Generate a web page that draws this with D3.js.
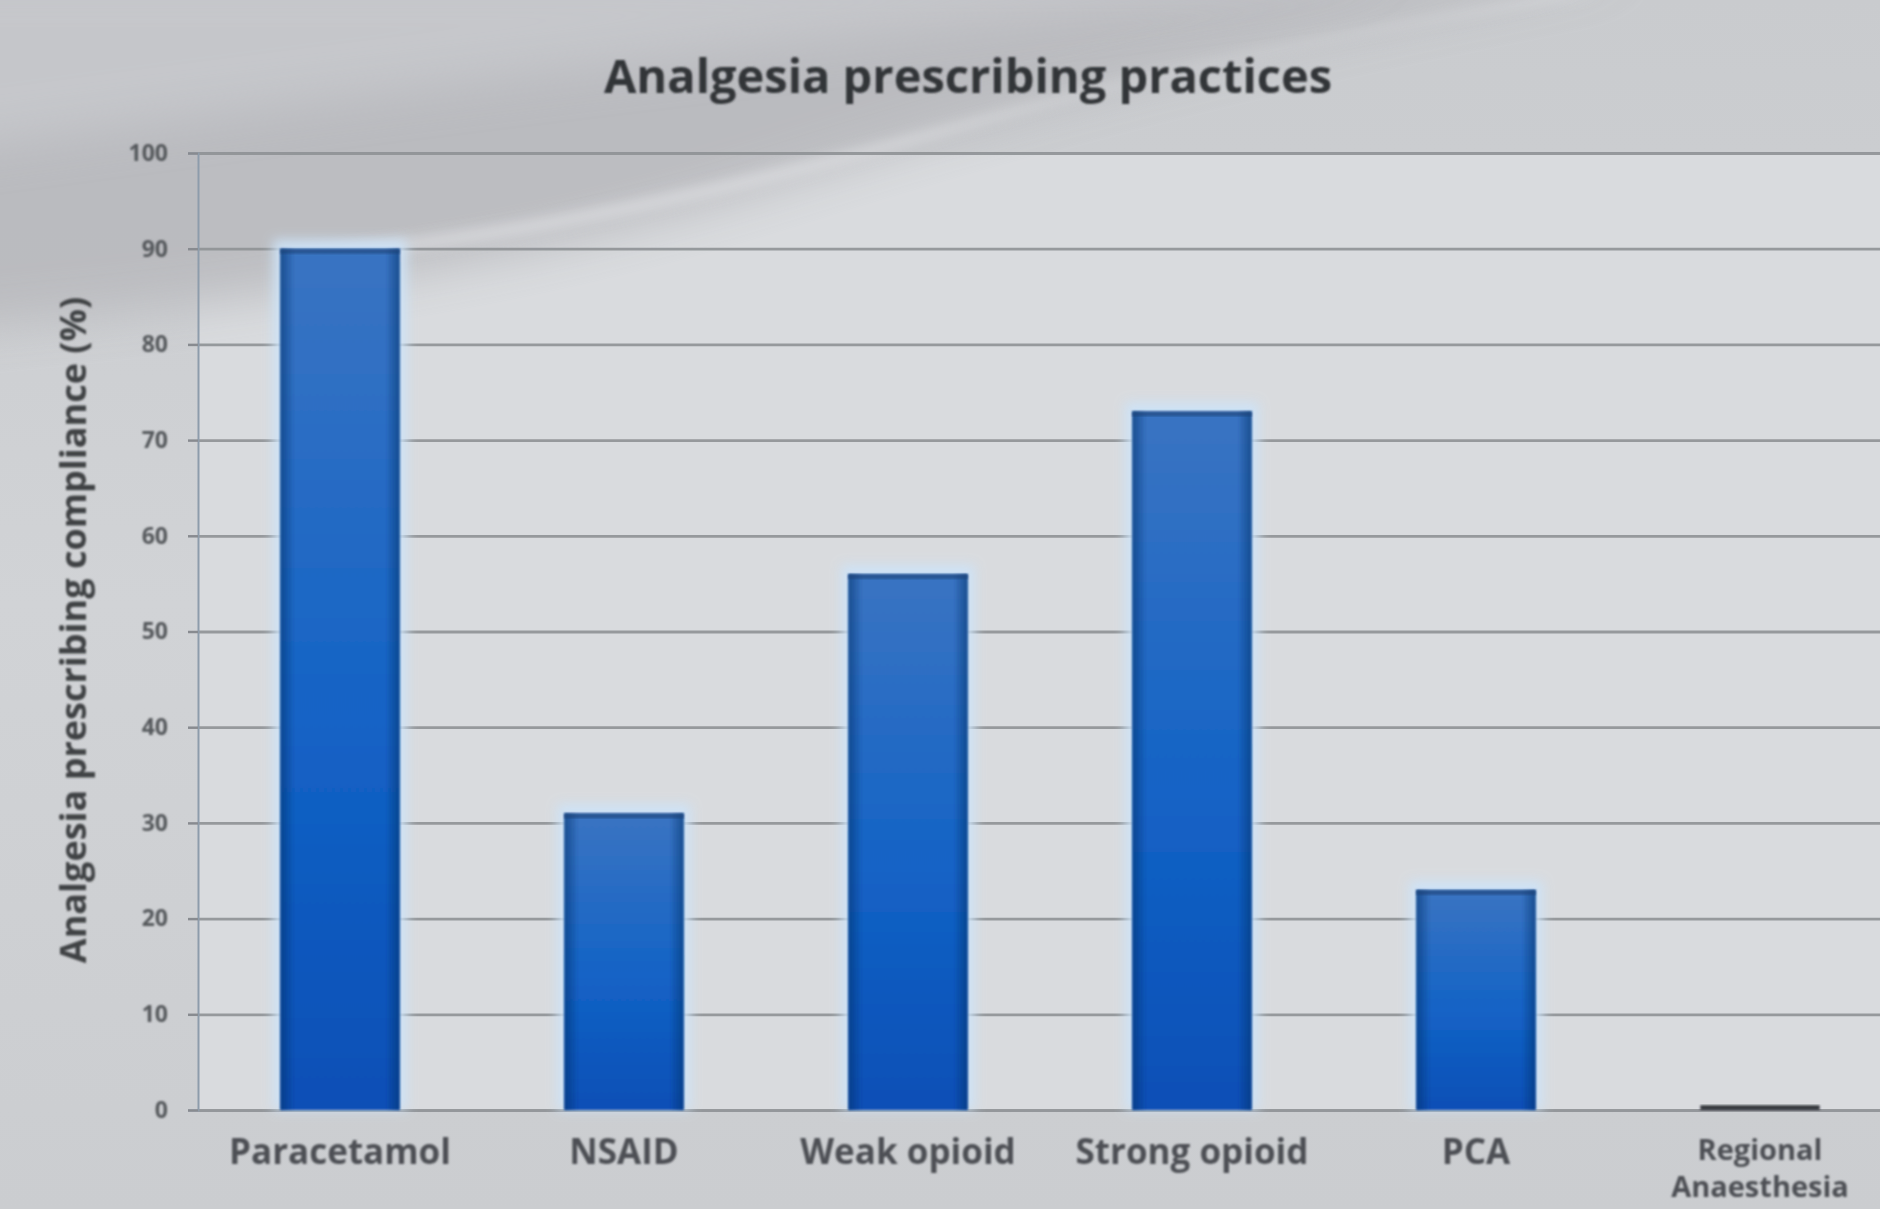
<!DOCTYPE html>
<html><head><meta charset="utf-8">
<script src="https://cdn.jsdelivr.net/npm/d3@7"></script>
<style>html,body{margin:0;padding:0;overflow:hidden;background:#cdcfd2;}svg{display:block;}</style>
</head><body><svg id="chart" width="1880" height="1209"></svg>
<script>
const categories = ["Paracetamol", "NSAID", "Weak opioid", "Strong opioid", "PCA", "Regional Anaesthesia"];
const values = [90, 31, 56, 73, 23, 0.5];
const yTicks = [0, 10, 20, 30, 40, 50, 60, 70, 80, 90, 100];
const titleText = "Analgesia prescribing practices";
const yLabelText = "Analgesia prescribing compliance (%)";

const W = 1880, H = 1209;
const svg = d3.select("#chart");
const defs = svg.append("defs");

const bg = defs.append("linearGradient").attr("id","bg").attr("x1",0).attr("y1",0).attr("x2",0).attr("y2",1);
bg.append("stop").attr("offset","0%").attr("stop-color","#c9cbce");
bg.append("stop").attr("offset","50%").attr("stop-color","#d1d3d6");
bg.append("stop").attr("offset","100%").attr("stop-color","#cbcdd0");
svg.append("rect").attr("width",W).attr("height",H).attr("fill","url(#bg)");

defs.append("filter").attr("id","blur30").attr("x","-20%").attr("y","-50%").attr("width","140%").attr("height","200%")
  .append("feGaussianBlur").attr("stdDeviation",24);
defs.append("filter").attr("id","blur8").attr("x","-20%").attr("y","-20%").attr("width","140%").attr("height","140%")
  .append("feGaussianBlur").attr("stdDeviation",6);
defs.append("filter").attr("id","soft").append("feGaussianBlur").attr("stdDeviation",1.1);

const plotLeft = 198, plotTop = 153, plotBottom = 1110;
svg.append("rect").attr("x",plotLeft).attr("y",plotTop).attr("width",W-plotLeft).attr("height",plotBottom-plotTop)
  .attr("fill","#d9dbde");

svg.append("path")
  .attr("d","M-60,330 C250,300 520,270 820,170 C1080,90 1320,30 1640,-30 L-60,-30 Z")
  .attr("fill","#b9babe").attr("opacity",0.9).attr("filter","url(#blur30)");
svg.append("path")
  .attr("d","M-60,-30 L1400,-30 C1000,20 600,60 -60,150 Z")
  .attr("fill","#cbccd0").attr("opacity",0.7).attr("filter","url(#blur30)");
svg.append("path")
  .attr("d","M300,262 C520,245 760,190 960,130 C1150,75 1350,30 1600,-5 L1560,-5 C1320,35 1120,80 930,130 C720,185 520,230 300,250 Z")
  .attr("fill","#e4e5e8").attr("opacity",0.55).attr("filter","url(#blur8)");

const x = d3.scaleBand().domain(categories).range([plotLeft, plotLeft + 6*284]).paddingInner(0.58).paddingOuter(0.29);
const y = d3.scaleLinear().domain([0,100]).range([plotBottom, plotTop]);

const grid = svg.append("g").attr("transform",`translate(${plotLeft},0)`)
  .call(d3.axisLeft(y).tickValues(yTicks).tickSize(-(W-plotLeft)).tickFormat(""));
grid.select(".domain").remove();
grid.selectAll(".tick line").attr("stroke","#8e9195").attr("stroke-width",2.8).attr("stroke-opacity",0.9);

const yAxis = svg.append("g").attr("transform",`translate(${plotLeft},0)`)
  .call(d3.axisLeft(y).tickValues(yTicks).tickSize(10).tickPadding(20));
yAxis.select(".domain").attr("stroke","#8d9cab").attr("stroke-width",2);
yAxis.selectAll(".tick line").attr("stroke","#888b90").attr("stroke-width",2.5);
yAxis.selectAll(".tick text").attr("fill","#55585c").attr("font-family","'Open Sans', sans-serif")
  .attr("font-size",23).attr("font-weight","bold").attr("filter","url(#soft)");

const bgr = defs.append("linearGradient").attr("id","bar").attr("x1",0).attr("y1",0).attr("x2",0).attr("y2",1);
bgr.append("stop").attr("offset","0%").attr("stop-color","#3a74c2");
bgr.append("stop").attr("offset","55%").attr("stop-color","#1363c6");
bgr.append("stop").attr("offset","100%").attr("stop-color","#0c4fb6");
const edge = defs.append("linearGradient").attr("id","edge").attr("x1",0).attr("y1",0).attr("x2",1).attr("y2",0);
edge.append("stop").attr("offset","0%").attr("stop-color","#0b2f66").attr("stop-opacity",0.55);
edge.append("stop").attr("offset","12%").attr("stop-color","#0b2f66").attr("stop-opacity",0);
edge.append("stop").attr("offset","88%").attr("stop-color","#0b2f66").attr("stop-opacity",0);
edge.append("stop").attr("offset","100%").attr("stop-color","#0b2f66").attr("stop-opacity",0.55);

const data = categories.map((c,i)=>({c, v: values[i]}));
const bars = svg.append("g");
bars.selectAll("rect.glow").data(data).join("rect").attr("class","glow")
  .attr("x",d=>x(d.c)-7).attr("y",d=>y(d.v)-9).attr("width",x.bandwidth()+14).attr("height",d=>y(0)-y(d.v)+9)
  .attr("fill","#cde3f8").attr("filter","url(#blur8)").attr("opacity",d=>d.v>2?0.95:0);
bars.selectAll("rect.bar").data(data).join("rect").attr("class","bar")
  .attr("x",d=>x(d.c)).attr("y",d=>y(d.v)).attr("width",x.bandwidth()).attr("height",d=>Math.max(5,y(0)-y(d.v)))
  .attr("fill",d=>d.v>2?"url(#bar)":"#34383e").attr("filter","url(#soft)");
bars.selectAll("rect.edge").data(data.filter(d=>d.v>2)).join("rect").attr("class","edge")
  .attr("x",d=>x(d.c)).attr("y",d=>y(d.v)).attr("width",x.bandwidth()).attr("height",d=>y(0)-y(d.v))
  .attr("fill","url(#edge)").attr("filter","url(#soft)");
bars.selectAll("rect.top").data(data.filter(d=>d.v>2)).join("rect").attr("class","top")
  .attr("x",d=>x(d.c)).attr("y",d=>y(d.v)).attr("width",x.bandwidth()).attr("height",5)
  .attr("fill","#1d3f73").attr("opacity",0.6).attr("filter","url(#soft)");

const xAxis = svg.append("g").attr("transform",`translate(0,${plotBottom})`)
  .call(d3.axisBottom(x).tickSize(0).tickPadding(0));
xAxis.select(".domain").remove();
xAxis.selectAll(".tick text").each(function(d){
  const t = d3.select(this);
  const multi = d === "Regional Anaesthesia";
  t.text(null).attr("fill","#4d5054").attr("font-family","'Open Sans', sans-serif").attr("font-size",multi?29:35)
    .attr("font-weight","bold").attr("filter","url(#soft)").attr("dy",null).attr("y",0);
  const words = multi ? ["Regional","Anaesthesia"] : [d];
  words.forEach((w,i)=>t.append("tspan").attr("x",0).attr("y",(multi?50:54) + i*37).text(w));
});

svg.append("text").attr("x",968).attr("y",93).attr("text-anchor","middle")
  .attr("font-family","'Open Sans', sans-serif").attr("font-weight","bold").attr("font-size",47)
  .attr("fill","#333538").attr("filter","url(#soft)").text(titleText);

svg.append("text").attr("transform","translate(86,630) rotate(-90)").attr("text-anchor","middle")
  .attr("font-family","'Open Sans', sans-serif").attr("font-weight","bold").attr("font-size",36)
  .attr("fill","#404245").attr("filter","url(#soft)").text(yLabelText);
</script></body></html>
